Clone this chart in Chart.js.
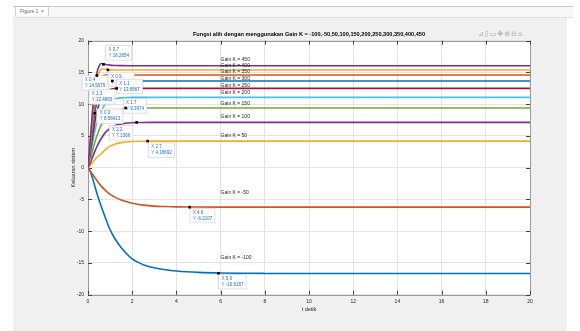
<!DOCTYPE html>
<html>
<head>
<meta charset="utf-8">
<script src="https://cdn.jsdelivr.net/npm/chart.js@4"></script>
<style>
  html, body { margin: 0; padding: 0; background: #fff; width: 580px; height: 331px; overflow: hidden;
               font-family: 'Liberation Sans', Arial, sans-serif; }
  #topline { position: absolute; left: 13px; top: 6px; width: 560px; border-top: 1px solid #c9c9c9; }
  #tabbar  { position: absolute; left: 13px; top: 7px; width: 560px; height: 10px; background: #f8f8f8;
             border-bottom: 1px solid #e2e2e2; }
  #tab     { position: absolute; left: 15px; top: 7px; height: 9px; padding: 0 4px; background: #fff;
             border-left: 1px solid #d0d0d0; border-right: 1px solid #d0d0d0;
             font-size: 5px; line-height: 9px; color: #666; }
  #panel   { position: absolute; left: 13px; top: 18px; width: 554px; height: 313px; background: #f0f0f0; }
  #tools   { position: absolute; left: 478px; top: 30px; font-size: 7px; color: #aaa; letter-spacing: 1px;
             font-family: 'DejaVu Sans', sans-serif; }
  canvas   { position: absolute; left: 0; top: 0; }
</style>
</head>
<body>
<div id="topline"></div>
<div id="tabbar"></div>
<div id="tab">Figure 1 &nbsp;×</div>
<div id="panel"></div>
<canvas id="fig" width="580" height="331"></canvas>
<div id="tools">⊿▯▭✥⊕⊖⌂</div>
<script>
/* Step responses */

const TITLE = 'Fungsi alih dengan menggunakan Gain K = -100,-50,50,100,150,200,250,300,350,400,450';

const timeSec = [0, 0.1, 0.2, 0.3, 0.4, 0.5, 0.6, 0.8, 1.0, 1.2, 1.5, 2, 2.5, 3, 3.5, 4,
                 5, 6, 7, 8, 10, 12, 14, 16, 18, 20];

const gainK = [-100, -50, 50, 100, 150, 200, 250, 300, 350, 400, 450];

const yKm100 = [0, -0.6, -1.6, -2.8, -4.0, -5.1, -6.1, -8.0, -9.77, -11.07, -12.57, -14.37, -15.27, -15.77, -16.07, -16.27,
                -16.49, -16.59, -16.63, -16.65, -16.67, -16.67, -16.67, -16.67, -16.67, -16.67];
const yKm50  = [0, -0.5, -1.0, -1.5, -2.0, -2.5, -2.9, -3.6, -4.2, -4.6, -5.1, -5.6, -5.9, -6.05, -6.12, -6.17,
                -6.2, -6.21, -6.21, -6.21, -6.21, -6.21, -6.21, -6.21, -6.21, -6.21];
const yK50   = [0, 0.4, 0.8, 1.2, 1.6, 1.9, 2.2, 2.9, 3.4, 3.7, 3.95, 4.12, 4.17, 4.19, 4.19, 4.19,
                4.19, 4.19, 4.19, 4.19, 4.19, 4.19, 4.19, 4.19, 4.19, 4.19];
const yK100  = [0, 0.7, 1.6, 2.5, 3.3, 4.0, 4.6, 5.6, 6.2, 6.6, 6.9, 7.08, 7.12, 7.14, 7.14, 7.14,
                7.14, 7.14, 7.14, 7.14, 7.14, 7.14, 7.14, 7.14, 7.14, 7.14];
const yK150  = [0, 1.2, 2.6, 3.9, 5.0, 5.9, 6.7, 7.8, 8.5, 8.9, 9.2, 9.35, 9.4, 9.4, 9.4, 9.4,
                9.4, 9.4, 9.4, 9.4, 9.4, 9.4, 9.4, 9.4, 9.4, 9.4];
const yK200  = [0, 1.8, 3.8, 5.6, 7.1, 8.2, 9.0, 10.1, 10.6, 10.85, 11.0, 11.07, 11.07, 11.07, 11.07, 11.07,
                11.07, 11.07, 11.07, 11.07, 11.07, 11.07, 11.07, 11.07, 11.07, 11.07];
const yK250  = [0, 2.3, 4.8, 7.0, 8.8, 10.0, 10.9, 11.9, 12.3, 12.45, 12.49, 12.49, 12.49, 12.49, 12.49, 12.49,
                12.49, 12.49, 12.49, 12.49, 12.49, 12.49, 12.49, 12.49, 12.49, 12.49];
const yK300  = [0, 2.8, 5.8, 8.4, 10.4, 11.8, 12.7, 13.4, 13.6, 13.65, 13.65, 13.65, 13.65, 13.65, 13.65, 13.65,
                13.65, 13.65, 13.65, 13.65, 13.65, 13.65, 13.65, 13.65, 13.65, 13.65];
const yK350  = [0, 3.3, 6.8, 9.8, 12.0, 13.4, 14.2, 14.6, 14.6, 14.6, 14.6, 14.6, 14.6, 14.6, 14.6, 14.6,
                14.6, 14.6, 14.6, 14.6, 14.6, 14.6, 14.6, 14.6, 14.6, 14.6];
const yK400  = [0, 3.8, 7.8, 11.1, 13.5, 14.9, 15.5, 15.5, 15.4, 15.39, 15.39, 15.39, 15.39, 15.39, 15.39, 15.39,
                15.39, 15.39, 15.39, 15.39, 15.39, 15.39, 15.39, 15.39, 15.39, 15.39];
const yK450  = [0, 4.3, 8.8, 12.4, 14.9, 16.0, 16.4, 16.25, 16.15, 16.1, 16.07, 16.06, 16.06, 16.06, 16.06, 16.06,
                16.06, 16.06, 16.06, 16.06, 16.06, 16.06, 16.06, 16.06, 16.06, 16.06];

const seriesY = [yKm100, yKm50, yK50, yK100, yK150, yK200, yK250, yK300, yK350, yK400, yK450];

/* text(6, y, 'Gain K = ...') annotations */
const gainLabelX = 6;
const gainLabelY = [-14.1, -4.0, 5.1, 8.1, 10.05, 11.8, 13.0, 14.05, 15.2, 16.1, 16.96];

/* data tips */
const tipX = [0.4, 0.9, 1.1, 1.3, 0.3, 1.7, 2.2, 0.7, 2.7, 4.6, 5.9];
const tipY = [14.5079, 15.4034, 13.6567, 12.4865, 8.58413, 9.3974, 7.1366, 16.2654, 4.18692, -6.2107, -16.6187];

const xTicks = [0, 2, 4, 6, 8, 10, 12, 14, 16, 18, 20];
const yTicks = [-20, -15, -10, -5, 0, 5, 10, 15, 20];

/* layout / style only */
const MATLAB_COLORS = ['#0072BD', '#D95319', '#EDB120', '#7E2F8E', '#77AC30', '#4DBEEE', '#A2142F'];
const TIP_OFFSET = [[-15, 0], [0, 2], [4, -2], [-28, 1], [2, -4.5], [-2.5, -9.6],
                    [-27.5, 3], [2, -19], [0.5, 1.5], [0, 1], [0, 1]];
const FONT = "'Liberation Sans', Arial, sans-serif";

Chart.defaults.font.family = FONT;

const datasets = gainK.map((k, i) => ({
  label: `K = ${k}`,
  data: timeSec.map((t, j) => ({ x: t, y: seriesY[i][j] })),
  borderColor: MATLAB_COLORS[i % MATLAB_COLORS.length],
  borderWidth: 1.6,
  pointRadius: 0,
  fill: false,
  cubicInterpolationMode: 'monotone',
  order: -i,
}));

const matlabAxes = {
  id: 'matlabAxes',
  beforeDraw(chart) {
    const { ctx, chartArea: a } = chart;
    ctx.save();
    ctx.fillStyle = '#fff';
    ctx.fillRect(a.left, a.top, a.right - a.left, a.bottom - a.top);
    ctx.restore();
  },
  beforeDatasetsDraw(chart) {
    const { ctx, chartArea: a, scales: { x, y } } = chart;
    ctx.save();
    ctx.strokeStyle = '#9a9a9a';
    ctx.lineWidth = 1;
    ctx.strokeRect(Math.round(a.left) + 0.5, Math.round(a.top) + 0.5,
                   Math.round(a.right - a.left), Math.round(a.bottom - a.top));
    ctx.strokeStyle = '#404040';
    ctx.beginPath();
    xTicks.forEach(v => {
      const px = Math.round(x.getPixelForValue(v)) + 0.5;
      ctx.moveTo(px, a.bottom); ctx.lineTo(px, a.bottom - 4);
      ctx.moveTo(px, a.top);    ctx.lineTo(px, a.top + 4);
    });
    yTicks.forEach(v => {
      const py = Math.round(y.getPixelForValue(v)) + 0.5;
      ctx.moveTo(a.left, py);  ctx.lineTo(a.left + 4, py);
      ctx.moveTo(a.right, py); ctx.lineTo(a.right - 4, py);
    });
    ctx.stroke();
    ctx.restore();
  },
  afterDatasetsDraw(chart) {
    const { ctx, chartArea: a, scales: { x, y } } = chart;
    ctx.save();

    /* title */
    ctx.fillStyle = '#000';
    ctx.font = `bold 5.6px ${FONT}`;
    ctx.textAlign = 'center';
    ctx.textBaseline = 'middle';
    ctx.fillText(TITLE, (a.left + a.right) / 2, 34.5);

    /* gain labels */
    ctx.font = `5px ${FONT}`;
    ctx.fillStyle = '#262626';
    ctx.textAlign = 'left';
    gainK.forEach((k, i) => {
      ctx.fillText(`Gain K = ${k}`, x.getPixelForValue(gainLabelX), y.getPixelForValue(gainLabelY[i]));
    });

    /* data tips */
    ctx.font = `4.5px ${FONT}`;
    ctx.textBaseline = 'middle';
    tipX.forEach((tx, i) => {
      const mx = x.getPixelForValue(tx);
      const my = y.getPixelForValue(tipY[i]);
      const l1 = 'X', v1 = String(tx), l2 = 'Y', v2 = String(tipY[i]);
      const w = Math.max(ctx.measureText(`${l1} ${v1}`).width, ctx.measureText(`${l2} ${v2}`).width) + 6;
      const bx = mx + TIP_OFFSET[i][0];
      const by = my + TIP_OFFSET[i][1];
      ctx.fillStyle = 'rgba(255,255,255,0.95)';
      ctx.shadowColor = 'rgba(0,0,0,0.15)';
      ctx.shadowBlur = 1.5;
      ctx.fillRect(bx, by, w, 15);
      ctx.shadowBlur = 0;
      ctx.strokeStyle = '#cfcfcf';
      ctx.lineWidth = 0.6;
      ctx.strokeRect(bx + 0.3, by + 0.3, w - 0.6, 14.4);
      ctx.fillStyle = '#5b7fb8';
      ctx.fillText(l1, bx + 3, by + 4.5);
      ctx.fillText(l2, bx + 3, by + 10.5);
      ctx.fillStyle = '#1a6fd8';
      const off = ctx.measureText('X ').width;
      ctx.fillText(v1, bx + 3 + off, by + 4.5);
      ctx.fillText(v2, bx + 3 + off, by + 10.5);
      ctx.fillStyle = '#000';
      ctx.fillRect(mx - 1.3, my - 1.3, 2.6, 2.6);
    });
    ctx.restore();
  },
};

new Chart(document.getElementById('fig'), {
  type: 'line',
  data: { datasets },
  plugins: [matlabAxes],
  options: {
    responsive: false,
    devicePixelRatio: 1,
    animation: false,
    layout: { padding: { top: 40.7, right: 50, left: 0, bottom: 0 } },
    plugins: { legend: { display: false }, tooltip: { enabled: false }, title: { display: false } },
    scales: {
      x: {
        type: 'linear', min: 0, max: 20,
        afterBuildTicks: s => { s.ticks = xTicks.map(v => ({ value: v })); },
        afterFit: s => { s.height = 331 - 294.7; },
        ticks: { color: '#262626', font: { size: 5 }, padding: 4, maxRotation: 0 },
        grid: { color: '#e4e4e4', drawTicks: false },
        border: { display: false },
        title: { display: true, text: 't detik', color: '#262626', font: { size: 5.5 },
                 padding: { top: 0, bottom: 18.7 } },
      },
      y: {
        type: 'linear', min: -20, max: 20,
        afterBuildTicks: s => { s.ticks = yTicks.map(v => ({ value: v })); },
        afterFit: s => { s.width = 88; },
        ticks: { color: '#262626', font: { size: 5 }, padding: 4 },
        grid: { color: '#e4e4e4', drawTicks: false },
        border: { display: false },
        title: { display: true, text: 'Keluaran sistem', color: '#262626', font: { size: 5.5 },
                 padding: { top: 69.7, bottom: 0 } },
      },
    },
  },
});
</script>
</body>
</html>
